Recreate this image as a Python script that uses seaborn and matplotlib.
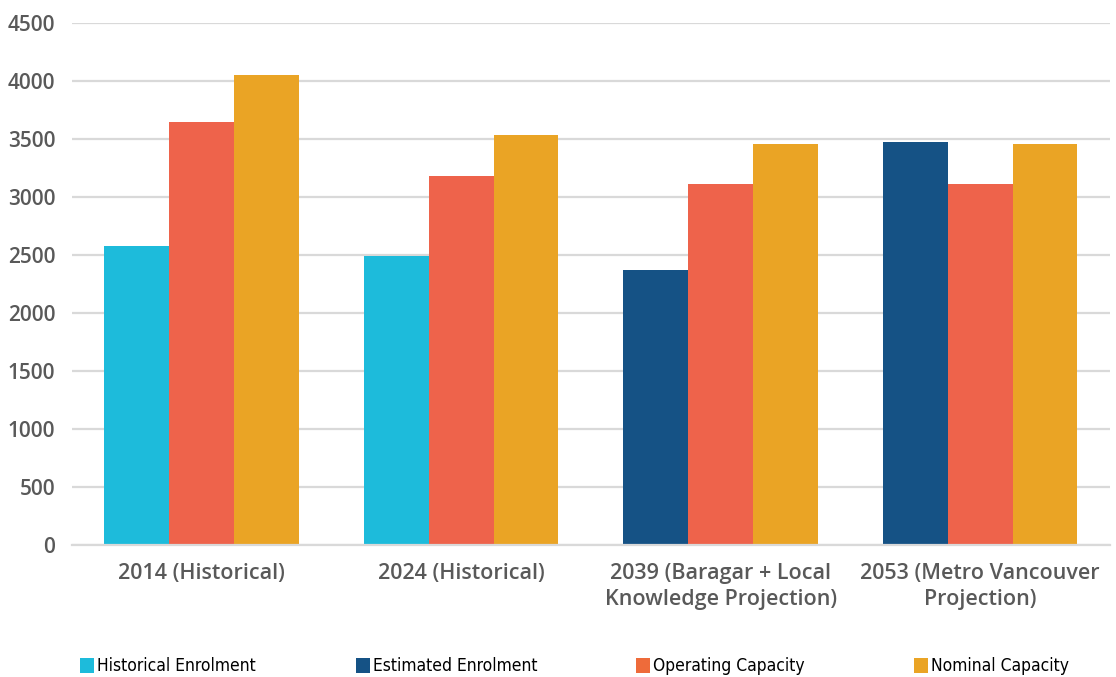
import pandas as pd
import matplotlib.pyplot as plt
import seaborn as sns
from matplotlib.patches import Rectangle

# Datos
periodos = ["2014 (Historical)", "2024 (Historical)",
            "2039 (Baragar + Local\nKnowledge Projection)",
            "2053 (Metro Vancouver\nProjection)"]
enrolment = [2575, 2495, 2375, 3470]
tipo_enrolment = ["Historical Enrolment", "Historical Enrolment",
                  "Estimated Enrolment", "Estimated Enrolment"]
operating = [3645, 3185, 3115, 3115]
nominal = [4050, 3535, 3460, 3460]

series = ["Historical Enrolment", "Estimated Enrolment",
          "Operating Capacity", "Nominal Capacity"]
colores = {
    "Historical Enrolment": "#1DBBDB",
    "Estimated Enrolment": "#155285",
    "Operating Capacity": "#EE634B",
    "Nominal Capacity": "#EAA425",
}
colores_leyenda = {**colores, "Operating Capacity": "#EE6B3A"}

slots = ["Enrolment", "Operating", "Nominal"]
filas = []
for i, p in enumerate(periodos):
    filas.append((p, "Enrolment", enrolment[i]))
    filas.append((p, "Operating", operating[i]))
    filas.append((p, "Nominal", nominal[i]))
df = pd.DataFrame(filas, columns=["periodo", "slot", "valor"])

sns.set_style("white")
plt.rcParams["font.family"] = ["Open Sans", "DejaVu Sans"]

fig = plt.figure(figsize=(11.16, 6.77), dpi=100)
ax = fig.add_axes([0.0645, 0.195, 0.930, 0.771])

sns.barplot(data=df, x="periodo", y="valor", hue="slot", hue_order=slots,
            palette={"Enrolment": colores["Historical Enrolment"],
                     "Operating": colores["Operating Capacity"],
                     "Nominal": colores["Nominal Capacity"]},
            width=0.75, linewidth=0, saturation=1, legend=False, ax=ax)

# primer slot: histórico o estimado
for i, bar in enumerate(ax.containers[0]):
    bar.set_facecolor(colores[tipo_enrolment[i]])

ax.set_ylim(0, 4500)
ax.set_xlim(-0.5, 3.5)
ax.set_yticks(range(0, 4501, 500))
ax.yaxis.grid(True, color="#d9d9d9", linewidth=1.6)
ax.set_axisbelow(True)
for s in ["top", "left", "right"]:
    ax.spines[s].set_visible(False)
ax.spines["bottom"].set_color("#d9d9d9")
ax.spines["bottom"].set_linewidth(1.6)
ax.set_xlabel("")
ax.set_ylabel("")
ax.tick_params(axis="both", length=0, labelcolor="#595959")
ax.tick_params(axis="y", pad=12, labelsize=15)
ax.tick_params(axis="x", pad=13, labelsize=15.5)
for lbl in ax.get_xticklabels() + ax.get_yticklabels():
    lbl.set_fontweight("semibold")
for lbl in ax.get_xticklabels():
    lbl.set_linespacing(1.3)

# Leyenda manual en la parte inferior
x_leyenda = [80, 356, 636, 914]
for x0, nombre in zip(x_leyenda, series):
    fig.patches.append(Rectangle((x0 / 1116, 1 - 673 / 677), 14 / 1116, 15 / 677,
                                 transform=fig.transFigure,
                                 facecolor=colores_leyenda[nombre], edgecolor="none"))
    fig.text((x0 + 17) / 1116, 1 - 666 / 677, nombre, va="center", ha="left",
             fontsize=12.5, color="black", fontstretch="condensed",
             fontweight="medium", family=["DejaVu Sans"])

plt.savefig("out.png", dpi=100)
plt.close()
